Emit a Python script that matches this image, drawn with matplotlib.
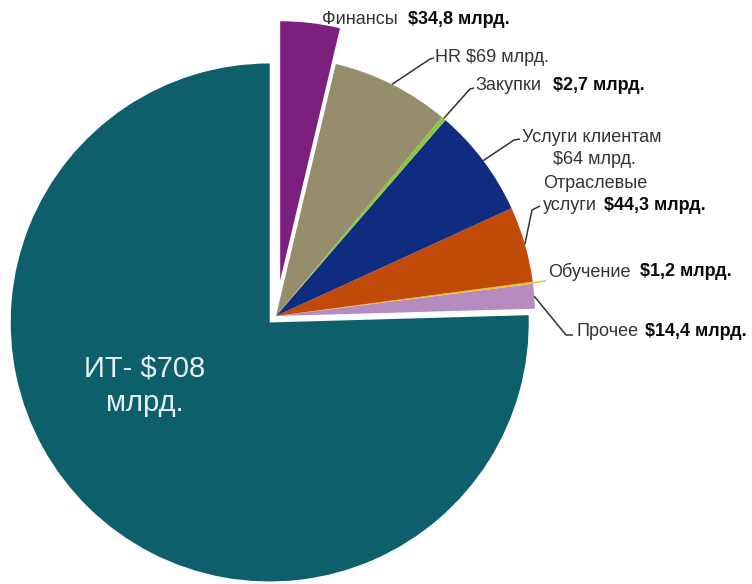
import numpy as np
import matplotlib
matplotlib.use("Agg")
import matplotlib.pyplot as plt

# Spending by function, billions of dollars
categories = ["ИТ", "Прочее", "Обучение", "Отраслевые услуги",
              "Услуги клиентам", "Закупки", "HR", "Финансы"]
values = [708, 14.4, 1.2, 44.3, 64, 2.7, 69, 34.8]
colors = ["#0d5f6b", "#b68cc0", "#e8c028", "#c04b08",
          "#0f2c80", "#8cc63f", "#958d6b", "#7d1f7f"]
# pie() takes the offsets in data units (pixels here)
explode = [9, 0, 0, 0, 0, 0, 0, 36]

W, H = 752, 584
R = 259
CENTER = (276, H - 316)


def px(x, y):
    # pixel position (origin top-left) -> data coordinates
    return x, H - y


plt.rcParams["font.family"] = ["Liberation Sans", "DejaVu Sans"]

fig = plt.figure(figsize=(W / 100, H / 100), dpi=100)
ax = fig.add_axes([0, 0, 1, 1])
wedges, _ = ax.pie(values, colors=colors, explode=explode, startangle=90,
                   counterclock=True, radius=R, center=CENTER,
                   wedgeprops=dict(linewidth=0))
ax.set_xlim(0, W)
ax.set_ylim(0, H)
ax.set_aspect("equal")
ax.axis("off")


def arc_point(i):
    w = wedges[i]
    ang = np.deg2rad((w.theta1 + w.theta2) / 2)
    cx, cy = w.center
    return cx + w.r * np.cos(ang), cy + w.r * np.sin(ang)


def leader(i, elbow, end, color="#333333"):
    x0, y0 = arc_point(i)
    x1, y1 = px(*elbow)
    x2, y2 = px(*end)
    ax.plot([x0, x1, x2], [y0, y1, y2], color=color, lw=1.1,
            solid_capstyle="butt")


FS = 13
txt = dict(fontsize=FS, color="#333333", va="center", ha="left")
bold = dict(fontsize=FS, color="#0a0a0a", va="center", ha="left",
            fontweight="bold")

# IT label inside the big wedge
ax.text(*px(145, 386), "ИТ- $708\nмлрд.", fontsize=21, color="#e6f2f2",
        ha="center", va="center", linespacing=1.3)

# Финансы
ax.text(*px(322, 20), "Финансы", **txt)
ax.text(*px(408, 20), "$34,8 млрд.", **bold)

# HR
leader(6, (430, 59), (434, 58))
ax.text(*px(435, 57), "HR $69 млрд.", **txt)

# Закупки
leader(5, (470, 89), (474, 88))
ax.text(*px(475, 85), "Закупки", **txt)
ax.text(*px(553, 85), "$2,7 млрд.", **bold)

# Услуги клиентам
leader(4, (514, 140), (520, 139))
ax.text(*px(522, 137), "Услуги клиентам", **txt)
ax.text(*px(553, 160), "$64 млрд.", **txt)

# Отраслевые услуги
leader(3, (532, 210), (540, 206))
ax.text(*px(543, 183), "Отраслевые", **txt)
ax.text(*px(543, 205), "услуги", **txt)
ax.text(*px(604, 205), "$44,3 млрд.", **bold)

# Обучение
leader(2, (545, 281), (546, 281), color=colors[2])
ax.text(*px(548, 272), "Обучение", **txt)
ax.text(*px(640, 272), "$1,2 млрд.", **bold)

# Прочее
leader(1, (566, 335), (573, 335))
ax.text(*px(576, 332), "Прочее", **txt)
ax.text(*px(645, 332), "$14,4 млрд.", **bold)

fig.savefig("out.png", dpi=100, facecolor="white")
